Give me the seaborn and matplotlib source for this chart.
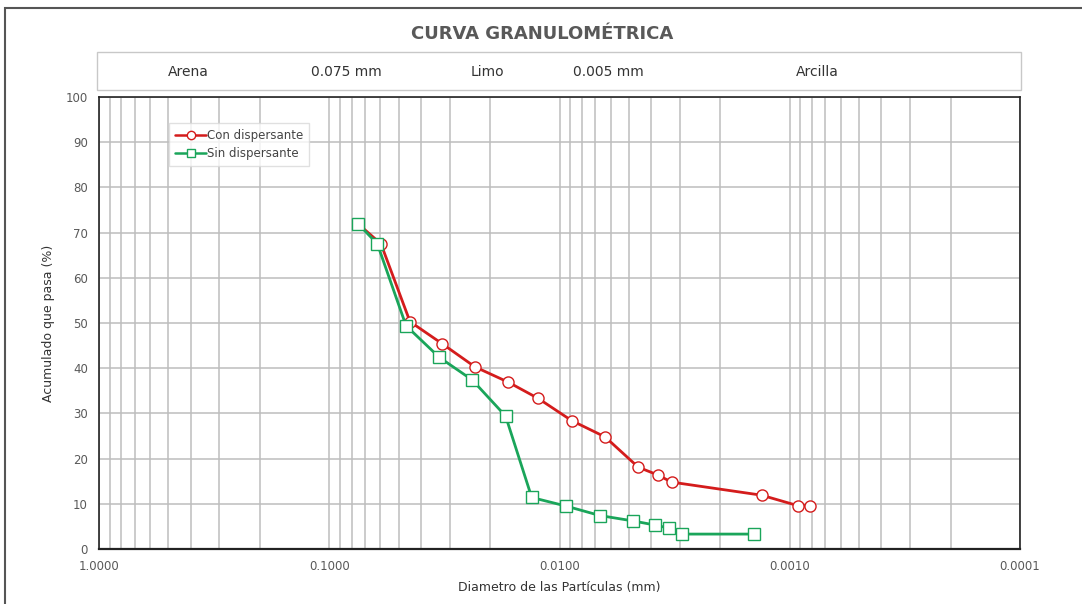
import matplotlib
matplotlib.use("Agg")
import matplotlib.pyplot as plt
import matplotlib.ticker as mticker
from matplotlib.patches import Rectangle
import pandas as pd
import seaborn as sns

# --- data ---
diam_con = [0.0748, 0.0596, 0.0446, 0.0323, 0.0233, 0.01668, 0.01236, 0.00885,
            0.00634, 0.00455, 0.00375, 0.00326, 0.001324, 0.000924, 0.000817]
pasa_con = [71.9, 67.5, 50.3, 45.4, 40.3, 36.9, 33.3, 28.4,
            24.8, 18.1, 16.4, 14.8, 11.9, 9.6, 9.6]

diam_sin = [0.0748, 0.0618, 0.0464, 0.03327, 0.02393, 0.01714, 0.0132, 0.00937,
            0.00667, 0.00478, 0.00385, 0.00334, 0.00295, 0.00143]
pasa_sin = [71.9, 67.5, 49.4, 42.4, 37.4, 29.4, 11.4, 9.5,
            7.4, 6.2, 5.3, 4.6, 3.3, 3.3]

serie_labels = ["Con dispersante", "Sin dispersante"]
zona_labels = ["Arena", "0.075 mm", "Limo", "0.005 mm", "Arcilla"]
zona_x = [188, 346, 487, 608, 817]  # pixel centres of header labels

x_ticks = [1.0, 0.1, 0.01, 0.001, 0.0001]
y_ticks = list(range(0, 101, 10))

df_con = pd.DataFrame({"d": diam_con, "p": pasa_con})
df_sin = pd.DataFrame({"d": diam_sin, "p": pasa_sin})

sns.set_theme(style="white")
plt.rcParams["font.family"] = ["DejaVu Sans"]

W, H = 1082, 604
fig = plt.figure(figsize=(W / 100, H / 100), dpi=100)
ax = fig.add_axes([99 / W, 1 - 549 / H, 921 / W, 452 / H])

red = "#d41c1c"
green = "#1aa55a"

sns.lineplot(data=df_con, x="d", y="p", ax=ax, sort=False, estimator=None,
             color=red, linewidth=2, marker="o", markersize=8,
             markerfacecolor="white", markeredgecolor=red, markeredgewidth=1,
             label=serie_labels[0])
sns.lineplot(data=df_sin, x="d", y="p", ax=ax, sort=False, estimator=None,
             color=green, linewidth=2, marker="s", markersize=8,
             markerfacecolor="white", markeredgecolor=green, markeredgewidth=1,
             label=serie_labels[1])

# log x axis, inverted (1.0 -> 0.0001)
ax.set_xscale("log")
ax.set_xlim(1.0, 0.0001)
ax.set_ylim(0, 100)
ax.xaxis.set_major_locator(mticker.FixedLocator(x_ticks))
ax.xaxis.set_major_formatter(mticker.FuncFormatter(lambda v, p: f"{v:.4f}"))
ax.xaxis.set_minor_locator(mticker.LogLocator(base=10, subs=range(2, 10)))
ax.xaxis.set_minor_formatter(mticker.NullFormatter())
ax.set_yticks(y_ticks)

ax.grid(True, which="both", axis="x", color="#bdbdbd", linewidth=1.1)
ax.grid(True, which="major", axis="y", color="#bdbdbd", linewidth=1.1)
ax.set_axisbelow(True)
for s in ax.spines.values():
    s.set_color("#222222")
    s.set_linewidth(1.2)
ax.spines["bottom"].set_linewidth(1.6)

ax.tick_params(axis="both", which="both", length=0, labelsize=8.5,
               labelcolor="#595959", pad=8)
ax.set_xlabel("Diametro de las Partículas (mm)", fontsize=9, color="#333333", labelpad=6)
ax.set_ylabel("Acumulado que pasa (%)", fontsize=9, color="#333333", labelpad=8)

leg = ax.legend(loc="upper left", bbox_to_anchor=(0.07, 0.955), fontsize=8.5,
                frameon=True, fancybox=False, edgecolor="#d9d9d9",
                handlelength=2.6, handletextpad=0.1, borderpad=0.5, labelspacing=0.4)
for t in leg.get_texts():
    t.set_color("#444444")
for h in leg.get_lines():
    h.set_markersize(6)
    h.set_linewidth(1.8)

# outer chart frame
fig.patches.append(Rectangle((5 / W, -0.01), 1.02, 1 - 8 / H + 0.01, transform=fig.transFigure,
                             fill=False, edgecolor="#555555", linewidth=1.5))

# title + header box with the soil zones
fig.text(542 / W, 1 - 34 / H, "CURVA GRANULOMÉTRICA", ha="center", va="center",
         fontsize=13, fontweight="bold", color="#595959")
fig.patches.append(Rectangle((97 / W, 1 - 90 / H), 924 / W, 38 / H, transform=fig.transFigure,
                             facecolor="white", edgecolor="#c8c8c8", linewidth=1))
for lab, px in zip(zona_labels, zona_x):
    fig.text(px / W, 1 - 72 / H, lab, ha="center", va="center", fontsize=10, color="#333333")

fig.savefig("out.png", dpi=100)
